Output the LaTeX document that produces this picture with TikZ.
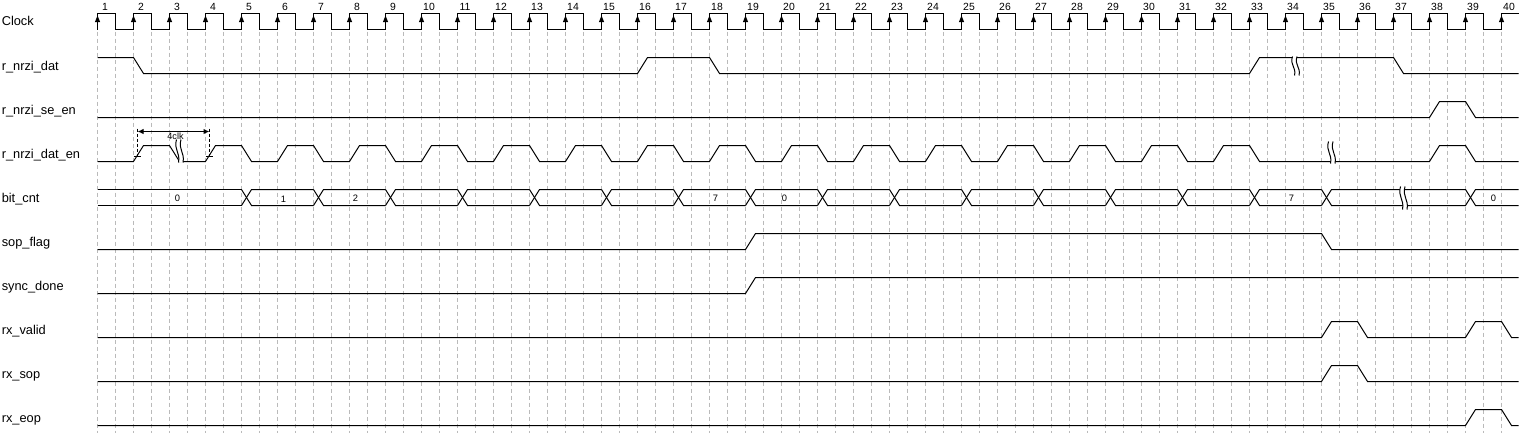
\documentclass[tikz,border=0pt]{standalone}
\usepackage{fontspec}
\setmainfont{Liberation Sans}
\usetikzlibrary{arrows.meta}
\tikzset{
  sig/.style={line width=0.75pt, black, line join=miter},
  gridl/.style={line width=0.6pt, color=black!27, dash pattern=on 3pt off 2.25pt},
  lbl/.style={anchor=base west, inner sep=0pt, font=\fontsize{9.6}{11}\selectfont},
  num/.style={anchor=base, inner sep=0pt, font=\fontsize{7.8}{9}\selectfont},
  val/.style={anchor=center, inner sep=0pt, font=\fontsize{7}{8}\selectfont},
  annot/.style={line width=0.6pt, black, dash pattern=on 2.25pt off 1.5pt},
}
\newcommand{\wbreak}[3]{%
  \fill[white] (#1,#2) .. controls (#1-3,#2*0.55+#3*0.45) and (#1+4,#2*0.45+#3*0.55) .. (#1+2,#3)
     -- (#1+6.5,#3) .. controls (#1+8.5,#2*0.45+#3*0.55) and (#1+1.5,#2*0.55+#3*0.45) .. (#1+4.5,#2) -- cycle;
  \draw[line width=0.75pt] (#1,#2) .. controls (#1-3,#2*0.55+#3*0.45) and (#1+4,#2*0.45+#3*0.55) .. (#1+2,#3);
  \draw[line width=0.75pt] (#1+4.5,#2) .. controls (#1+1.5,#2*0.55+#3*0.45) and (#1+8.5,#2*0.45+#3*0.55) .. (#1+6.5,#3);
}
\begin{document}
\begin{tikzpicture}[x=0.75pt,y=-0.75pt]
\useasboundingbox (0,0) rectangle (1524,432);
\fill[white] (0,0) rectangle (1524,432);
\begin{scope}[shift={(0.5,0.5)}]
% grid
\foreach \i in {0,...,78} \draw[gridl] ({97+18*\i},31) -- ({97+18*\i},432);
% labels
\node[lbl] (lclk) at (1,25.5) {Clock};
\node[lbl] (ldat) at (1,69.5) {r\_nrzi\_dat};
\node[lbl] (lse) at (1,113.5) {r\_nrzi\_se\_en};
\node[lbl] (lden) at (1,157.5) {r\_nrzi\_dat\_en};
\node[lbl] (lbit) at (1,201.5) {bit\_cnt};
\node[lbl] (lsop) at (1,245.5) {sop\_flag};
\node[lbl] (lsync) at (1,289.5) {sync\_done};
\node[lbl] (lval) at (1,333.5) {rx\_valid};
\node[lbl] (lrsop) at (1,377.5) {rx\_sop};
\node[lbl] (leop) at (1,421.5) {rx\_eop};
% clock
\draw[sig] (97,29) \foreach \k in {1,...,39} { -- ++(0,-16) -- ++(18,0) -- ++(0,16) -- ++(18,0) } -- ++(0,-16) -- ++(17,0);
\foreach \k in {1,...,40} {
  \pgfmathsetmacro\xe{61+36*\k}
  \fill (\xe,15) -- (\xe-2.6,21.5) -- (\xe+2.6,21.5) -- cycle;
  \node[num] (n\k) at (\xe+7.5,10) {\k};
}
% r_nrzi_dat
\draw[sig] (97,57) -- (133,57) -- (143,73) -- (637,73) -- (647,57) -- (709,57) -- (719,73) -- (1249,73) -- (1259,57) -- (1393,57) -- (1403,73) -- (1518,73);
\wbreak{1292}{56}{75}
% r_nrzi_se_en
\draw[sig] (97,117) -- (1429,117) -- (1439,101) -- (1465,101) -- (1475,117) -- (1518,117);
% r_nrzi_dat_en
\draw[sig] (97,161) -- (133,161) -- (143,145) -- (169,145) -- (179,161) -- (205,161)
  \foreach \k in {4,6,...,32} { -- ++(10,-16) -- ++(26,0) -- ++(10,16) -- ++(26,0) }
  -- (1429,161) -- (1439,145) -- (1465,145) -- (1475,161) -- (1518,161);
\wbreak{176}{139}{162}
\wbreak{1328}{141}{163}
% 4clk annotation
\coordinate (ca) at (137,131);
\coordinate (cb) at (209,131);
\coordinate (ca1) at (137,128);
\coordinate (ca2) at (137,158);
\coordinate (cb1) at (209,128);
\coordinate (cb2) at (209,158);
\draw[annot] (ca1) -- (ca2);
\draw[annot] (cb1) -- (cb2);
\draw[line width=0.75pt, {Latex[length=4.5pt,width=4pt]}-{Latex[length=4.5pt,width=4pt]}] (ca) -- (cb);
\draw[line width=0.6pt] (133,156) -- (140,156);
\draw[line width=0.6pt] (205,156) -- (212,156);
\node[font=\fontsize{6.8}{8}\selectfont, inner sep=0pt] (c4) at (175,135.5) {4clk};
% bit_cnt
\draw[sig] (97,189) -- (241,189);
\draw[sig] (97,205) -- (241,205);
\foreach \k in {5,7,...,33} {
  \pgfmathsetmacro\xa{61+36*\k}
  \draw[sig] (\xa,189) -- (\xa+10,205) -- (\xa+72,205);
  \draw[sig] (\xa,205) -- (\xa+10,189) -- (\xa+72,189);
}
\draw[sig] (1321,189) -- (1331,205) -- (1465,205) -- (1475,189) -- (1518,189);
\draw[sig] (1321,205) -- (1331,189) -- (1465,189) -- (1475,205) -- (1518,205);
\wbreak{1400}{186}{209}
\node[val] (v0) at (177,197.5) {0};
\node[val] (v1) at (283,198.5) {1};
\node[val] (v2) at (355,197.5) {2};
\node[val] (v7) at (715,197.5) {7};
\node[val] (v0b) at (784,197.5) {0};
\node[val] (v7b) at (1291,197.5) {7};
\node[val] (v0c) at (1493,197.5) {0};
% sop_flag
\draw[sig] (97,249) -- (745,249) -- (755,233) -- (1321,233) -- (1331,249) -- (1518,249);
% sync_done
\draw[sig] (97,293) -- (745,293) -- (755,277) -- (1518,277);
% rx_valid
\draw[sig] (97,337) -- (1321,337) -- (1331,321) -- (1357,321) -- (1367,337) -- (1465,337) -- (1475,321) -- (1501,321) -- (1511,337) -- (1518,337);
% rx_sop
\draw[sig] (97,381) -- (1321,381) -- (1331,365) -- (1357,365) -- (1367,381) -- (1518,381);
% rx_eop
\draw[sig] (97,425) -- (1465,425) -- (1475,409) -- (1501,409) -- (1511,425) -- (1518,425);
\end{scope}
\end{tikzpicture}
\end{document}
